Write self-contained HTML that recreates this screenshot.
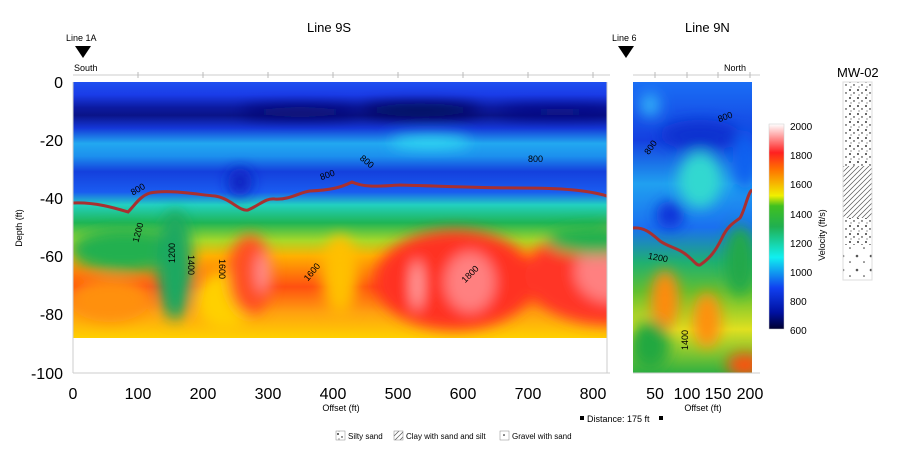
<!DOCTYPE html>
<html><head><meta charset="utf-8"><style>
body{margin:0;background:#fff;}
svg text{font-family:"Liberation Sans",Arial,sans-serif;}
</style></head><body>
<svg width="900" height="466" viewBox="0 0 900 466" xmlns="http://www.w3.org/2000/svg">
<defs>
<filter id="b" filterUnits="userSpaceOnUse" x="0" y="0" width="900" height="466"><feGaussianBlur stdDeviation="7"/></filter>
<clipPath id="cl"><rect x="73" y="82" width="534" height="256"/></clipPath>
<clipPath id="cr"><rect x="633" y="82" width="119" height="291"/></clipPath>
<linearGradient id="gL" x1="0" y1="82" x2="0" y2="338" gradientUnits="userSpaceOnUse">
<stop offset="0" stop-color="#1e4ff0"/><stop offset="0.05" stop-color="#1a3ce8"/>
<stop offset="0.1" stop-color="#0c1aa0"/><stop offset="0.13" stop-color="#0a1488"/><stop offset="0.18" stop-color="#1437d8"/>
<stop offset="0.24" stop-color="#22a8f0"/><stop offset="0.29" stop-color="#1c90ee"/>
<stop offset="0.35" stop-color="#1440dd"/><stop offset="0.43" stop-color="#1a5cf0"/>
<stop offset="0.48" stop-color="#22d0c0"/><stop offset="0.55" stop-color="#1fb555"/>
<stop offset="0.62" stop-color="#a8d828"/><stop offset="0.68" stop-color="#ffb000"/>
<stop offset="0.8" stop-color="#ff5010"/><stop offset="0.9" stop-color="#ffa010"/><stop offset="1" stop-color="#ffd000"/>
</linearGradient>
<linearGradient id="gR" x1="0" y1="82" x2="0" y2="373" gradientUnits="userSpaceOnUse">
<stop offset="0" stop-color="#1a6ef5"/><stop offset="0.2" stop-color="#1440e0"/>
<stop offset="0.35" stop-color="#20a0f0"/><stop offset="0.5" stop-color="#1a70f0"/>
<stop offset="0.62" stop-color="#1fb070"/><stop offset="0.72" stop-color="#60c030"/>
<stop offset="0.85" stop-color="#e0e020"/><stop offset="1" stop-color="#30b040"/>
</linearGradient>
<linearGradient id="cb" x1="0" y1="1" x2="0" y2="0">
<stop offset="0" stop-color="#000030"/><stop offset="0.08" stop-color="#0010a0"/>
<stop offset="0.2" stop-color="#1040f0"/><stop offset="0.35" stop-color="#10f0f0"/>
<stop offset="0.5" stop-color="#20b050"/><stop offset="0.6" stop-color="#40c020"/>
<stop offset="0.65" stop-color="#f0f000"/><stop offset="0.78" stop-color="#ff7000"/>
<stop offset="0.86" stop-color="#ff2020"/><stop offset="1" stop-color="#ffffff"/>
</linearGradient>
<pattern id="dots" width="8" height="8" patternUnits="userSpaceOnUse"><circle cx="2" cy="2" r="0.9" fill="#000"/><circle cx="6" cy="5" r="0.7" fill="#000"/><circle cx="3" cy="7" r="0.5" fill="#000"/></pattern>
<pattern id="hatch" width="5" height="5" patternUnits="userSpaceOnUse"><path d="M0 5L5 0M-1 1L1 -1M4 6L6 4" stroke="#555" stroke-width="0.7"/></pattern>
<pattern id="grav" width="14" height="14" patternUnits="userSpaceOnUse"><circle cx="3" cy="4" r="1.3" fill="#555"/><circle cx="10" cy="10" r="0.8" fill="#333"/></pattern>
</defs>

<text x="307" y="32" font-size="13">Line 9S</text>
<text x="685" y="32" font-size="13">Line 9N</text>
<text x="66" y="41" font-size="9">Line 1A</text>
<path d="M75 46L91 46L83 58Z" fill="#000"/>
<text x="74" y="71" font-size="9">South</text>
<text x="612" y="41" font-size="9">Line 6</text>
<path d="M618 46L634 46L626 58Z" fill="#000"/>
<text x="724" y="71" font-size="9">North</text>

<g clip-path="url(#cl)">
<rect x="73" y="82" width="534" height="256" fill="url(#gL)"/>
<g filter="url(#b)">
<ellipse cx="300" cy="112" rx="60" ry="6" fill="#080c70"/>
<ellipse cx="420" cy="110" rx="60" ry="7" fill="#060858"/>
<ellipse cx="560" cy="112" rx="60" ry="5" fill="#0a1080"/>
<ellipse cx="720" cy="110" rx="40" ry="5" fill="#080860"/>
<ellipse cx="430" cy="142" rx="40" ry="6" fill="#30e0f0"/>
<ellipse cx="240" cy="182" rx="12" ry="14" fill="#1020c0"/>
<ellipse cx="125" cy="250" rx="55" ry="22" fill="#20b050"/>
<ellipse cx="175" cy="265" rx="18" ry="55" fill="#1fa860"/>
<ellipse cx="110" cy="300" rx="40" ry="22" fill="#ff9010"/>
<ellipse cx="225" cy="300" rx="30" ry="30" fill="#ffd000"/>
<ellipse cx="250" cy="275" rx="22" ry="40" fill="#ff5020"/>
<ellipse cx="340" cy="275" rx="18" ry="40" fill="#ffc000"/>
<ellipse cx="455" cy="280" rx="80" ry="50" fill="#ff3020"/>
<ellipse cx="610" cy="275" rx="85" ry="50" fill="#ff3525"/>
<ellipse cx="470" cy="282" rx="25" ry="30" fill="#ff8080"/>
<ellipse cx="610" cy="272" rx="35" ry="30" fill="#ff8080"/>
<ellipse cx="263" cy="272" rx="7" ry="20" fill="#ff9090"/>
<ellipse cx="417" cy="285" rx="5" ry="25" fill="#ffb0b0"/>
<ellipse cx="595" cy="240" rx="50" ry="15" fill="#20b050"/>
</g>
<path d="M73 203C95 202 115 208 128 212C135 205 140 196 150 193C170 189 200 195 215 196C230 198 240 212 248 210C260 205 265 198 275 199C290 200 300 192 310 191C330 190 340 188 352 182C365 188 380 186 400 185C440 186 480 188 520 188C560 188 590 190 610 197" fill="none" stroke="#a83030" stroke-width="3"/>
</g>
<text x="130" y="191" font-size="9" transform="rotate(-30 140 188)">800</text>
<text x="320" y="177" font-size="9" transform="rotate(-20 330 175)">800</text>
<text x="360" y="163" font-size="9" transform="rotate(40 365 160)">800</text>
<text x="528" y="162" font-size="9">800</text>
<text x="130" y="240" font-size="9" transform="rotate(-75 136 236)">1200</text>
<text x="160" y="262" font-size="9" transform="rotate(-90 168 255)">1200</text>
<text x="192" y="265" font-size="9" transform="rotate(90 195 258)">1400</text>
<text x="222" y="268" font-size="9" transform="rotate(90 225 262)">1600</text>
<text x="302" y="275" font-size="9" transform="rotate(-50 312 272)">1600</text>
<text x="458" y="278" font-size="9" transform="rotate(-45 468 272)">1800</text>
<g stroke="#ccc" stroke-width="1">
<line x1="73" y1="82" x2="73" y2="373"/><line x1="73" y1="373" x2="610" y2="373"/>
<line x1="607" y1="82" x2="607" y2="373"/>
<line x1="73" y1="75" x2="610" y2="75"/>
</g>
<g stroke="#bbb"><line x1="138" y1="72" x2="138" y2="78"/><line x1="203" y1="72" x2="203" y2="78"/><line x1="268" y1="72" x2="268" y2="78"/><line x1="333" y1="72" x2="333" y2="78"/><line x1="398" y1="72" x2="398" y2="78"/><line x1="463" y1="72" x2="463" y2="78"/><line x1="528" y1="72" x2="528" y2="78"/><line x1="593" y1="72" x2="593" y2="78"/></g>
<g font-size="16" text-anchor="end">
<text x="63" y="88">0</text><text x="63" y="146">-20</text><text x="63" y="204">-40</text><text x="63" y="262">-60</text><text x="63" y="320">-80</text><text x="63" y="379">-100</text>
</g>
<g font-size="16" text-anchor="middle">
<text x="73" y="399">0</text><text x="138" y="399">100</text><text x="203" y="399">200</text><text x="268" y="399">300</text><text x="333" y="399">400</text><text x="398" y="399">500</text><text x="463" y="399">600</text><text x="528" y="399">700</text><text x="593" y="399">800</text>
</g>
<text x="341" y="411" font-size="9" text-anchor="middle">Offset (ft)</text>
<text x="0" y="0" font-size="9" text-anchor="middle" transform="translate(22 228) rotate(-90)">Depth (ft)</text>

<g clip-path="url(#cr)">
<rect x="633" y="82" width="119" height="291" fill="url(#gR)"/>
<g filter="url(#b)">
<ellipse cx="650" cy="105" rx="10" ry="12" fill="#30b0f8"/>
<ellipse cx="700" cy="135" rx="40" ry="15" fill="#1030d0"/>
<ellipse cx="700" cy="180" rx="22" ry="28" fill="#30d8d0"/>
<ellipse cx="670" cy="215" rx="14" ry="14" fill="#1030d8"/>
<ellipse cx="745" cy="160" rx="12" ry="30" fill="#1060f0"/>
<ellipse cx="740" cy="260" rx="15" ry="35" fill="#20a848"/>
<ellipse cx="665" cy="300" rx="14" ry="30" fill="#ff8a10"/>
<ellipse cx="707" cy="320" rx="14" ry="28" fill="#ff9010"/>
<ellipse cx="650" cy="345" rx="20" ry="25" fill="#20a840"/>
<ellipse cx="745" cy="365" rx="18" ry="12" fill="#ff5010"/>
</g>
<path d="M633 228C645 227 652 234 660 241C670 248 680 248 690 258C695 262 697 266 700 265C710 258 715 252 722 238C728 225 735 222 740 218C745 210 748 192 752 190" fill="none" stroke="#a83030" stroke-width="3"/>
</g>
<text x="645" y="152" font-size="9" transform="rotate(-55 650 150)">800</text>
<text x="718" y="120" font-size="9" transform="rotate(-20 725 118)">800</text>
<text x="648" y="260" font-size="9" transform="rotate(10 655 257)">1200</text>
<text x="680" y="358" font-size="9" transform="rotate(-90 680 350)">1400</text>
<g stroke="#ccc"><line x1="633" y1="373" x2="760" y2="373"/><line x1="633" y1="75" x2="760" y2="75"/></g>
<g stroke="#bbb"><line x1="655" y1="72" x2="655" y2="78"/><line x1="687" y1="72" x2="687" y2="78"/><line x1="718" y1="72" x2="718" y2="78"/><line x1="750" y1="72" x2="750" y2="78"/></g>
<g font-size="16" text-anchor="middle">
<text x="655" y="399">50</text><text x="687" y="399">100</text><text x="718" y="399">150</text><text x="750" y="399">200</text>
</g>
<text x="703" y="411" font-size="9" text-anchor="middle">Offset (ft)</text>
<rect x="580" y="416" width="4" height="4"/>
<text x="587" y="422" font-size="9">Distance: 175 ft</text>
<rect x="659" y="416" width="4" height="4"/>

<rect x="769" y="124" width="15" height="205" fill="url(#cb)" stroke="#ccc" stroke-width="0.5"/>
<g font-size="10"><text x="790" y="130">2000</text><text x="790" y="159">1800</text><text x="790" y="188">1600</text><text x="790" y="218">1400</text><text x="790" y="247">1200</text><text x="790" y="276">1000</text><text x="790" y="305">800</text><text x="790" y="334">600</text></g>
<text x="0" y="0" font-size="9" text-anchor="middle" transform="translate(825 235) rotate(-90)">Velocity (ft/s)</text>

<text x="837" y="77" font-size="13">MW-02</text>
<rect x="843" y="82" width="29" height="84" fill="url(#dots)"/>
<rect x="843" y="166" width="29" height="52" fill="url(#hatch)"/>
<rect x="843" y="218" width="29" height="27" fill="url(#dots)"/>
<rect x="843" y="245" width="29" height="35" fill="url(#grav)"/>
<rect x="843" y="82" width="29" height="198" fill="none" stroke="#ddd"/>

<rect x="336" y="431" width="9" height="9" fill="url(#dots)" stroke="#888" stroke-width="0.5"/>
<text x="348" y="439" font-size="8">Silty sand</text>
<rect x="394" y="431" width="9" height="9" fill="url(#hatch)" stroke="#888" stroke-width="0.5"/>
<text x="406" y="439" font-size="8">Clay with sand and silt</text>
<rect x="500" y="431" width="9" height="9" fill="#fff" stroke="#888" stroke-width="0.5"/>
<circle cx="504" cy="435" r="0.8"/>
<text x="512" y="439" font-size="8">Gravel with sand</text>
</svg>
</body></html>
